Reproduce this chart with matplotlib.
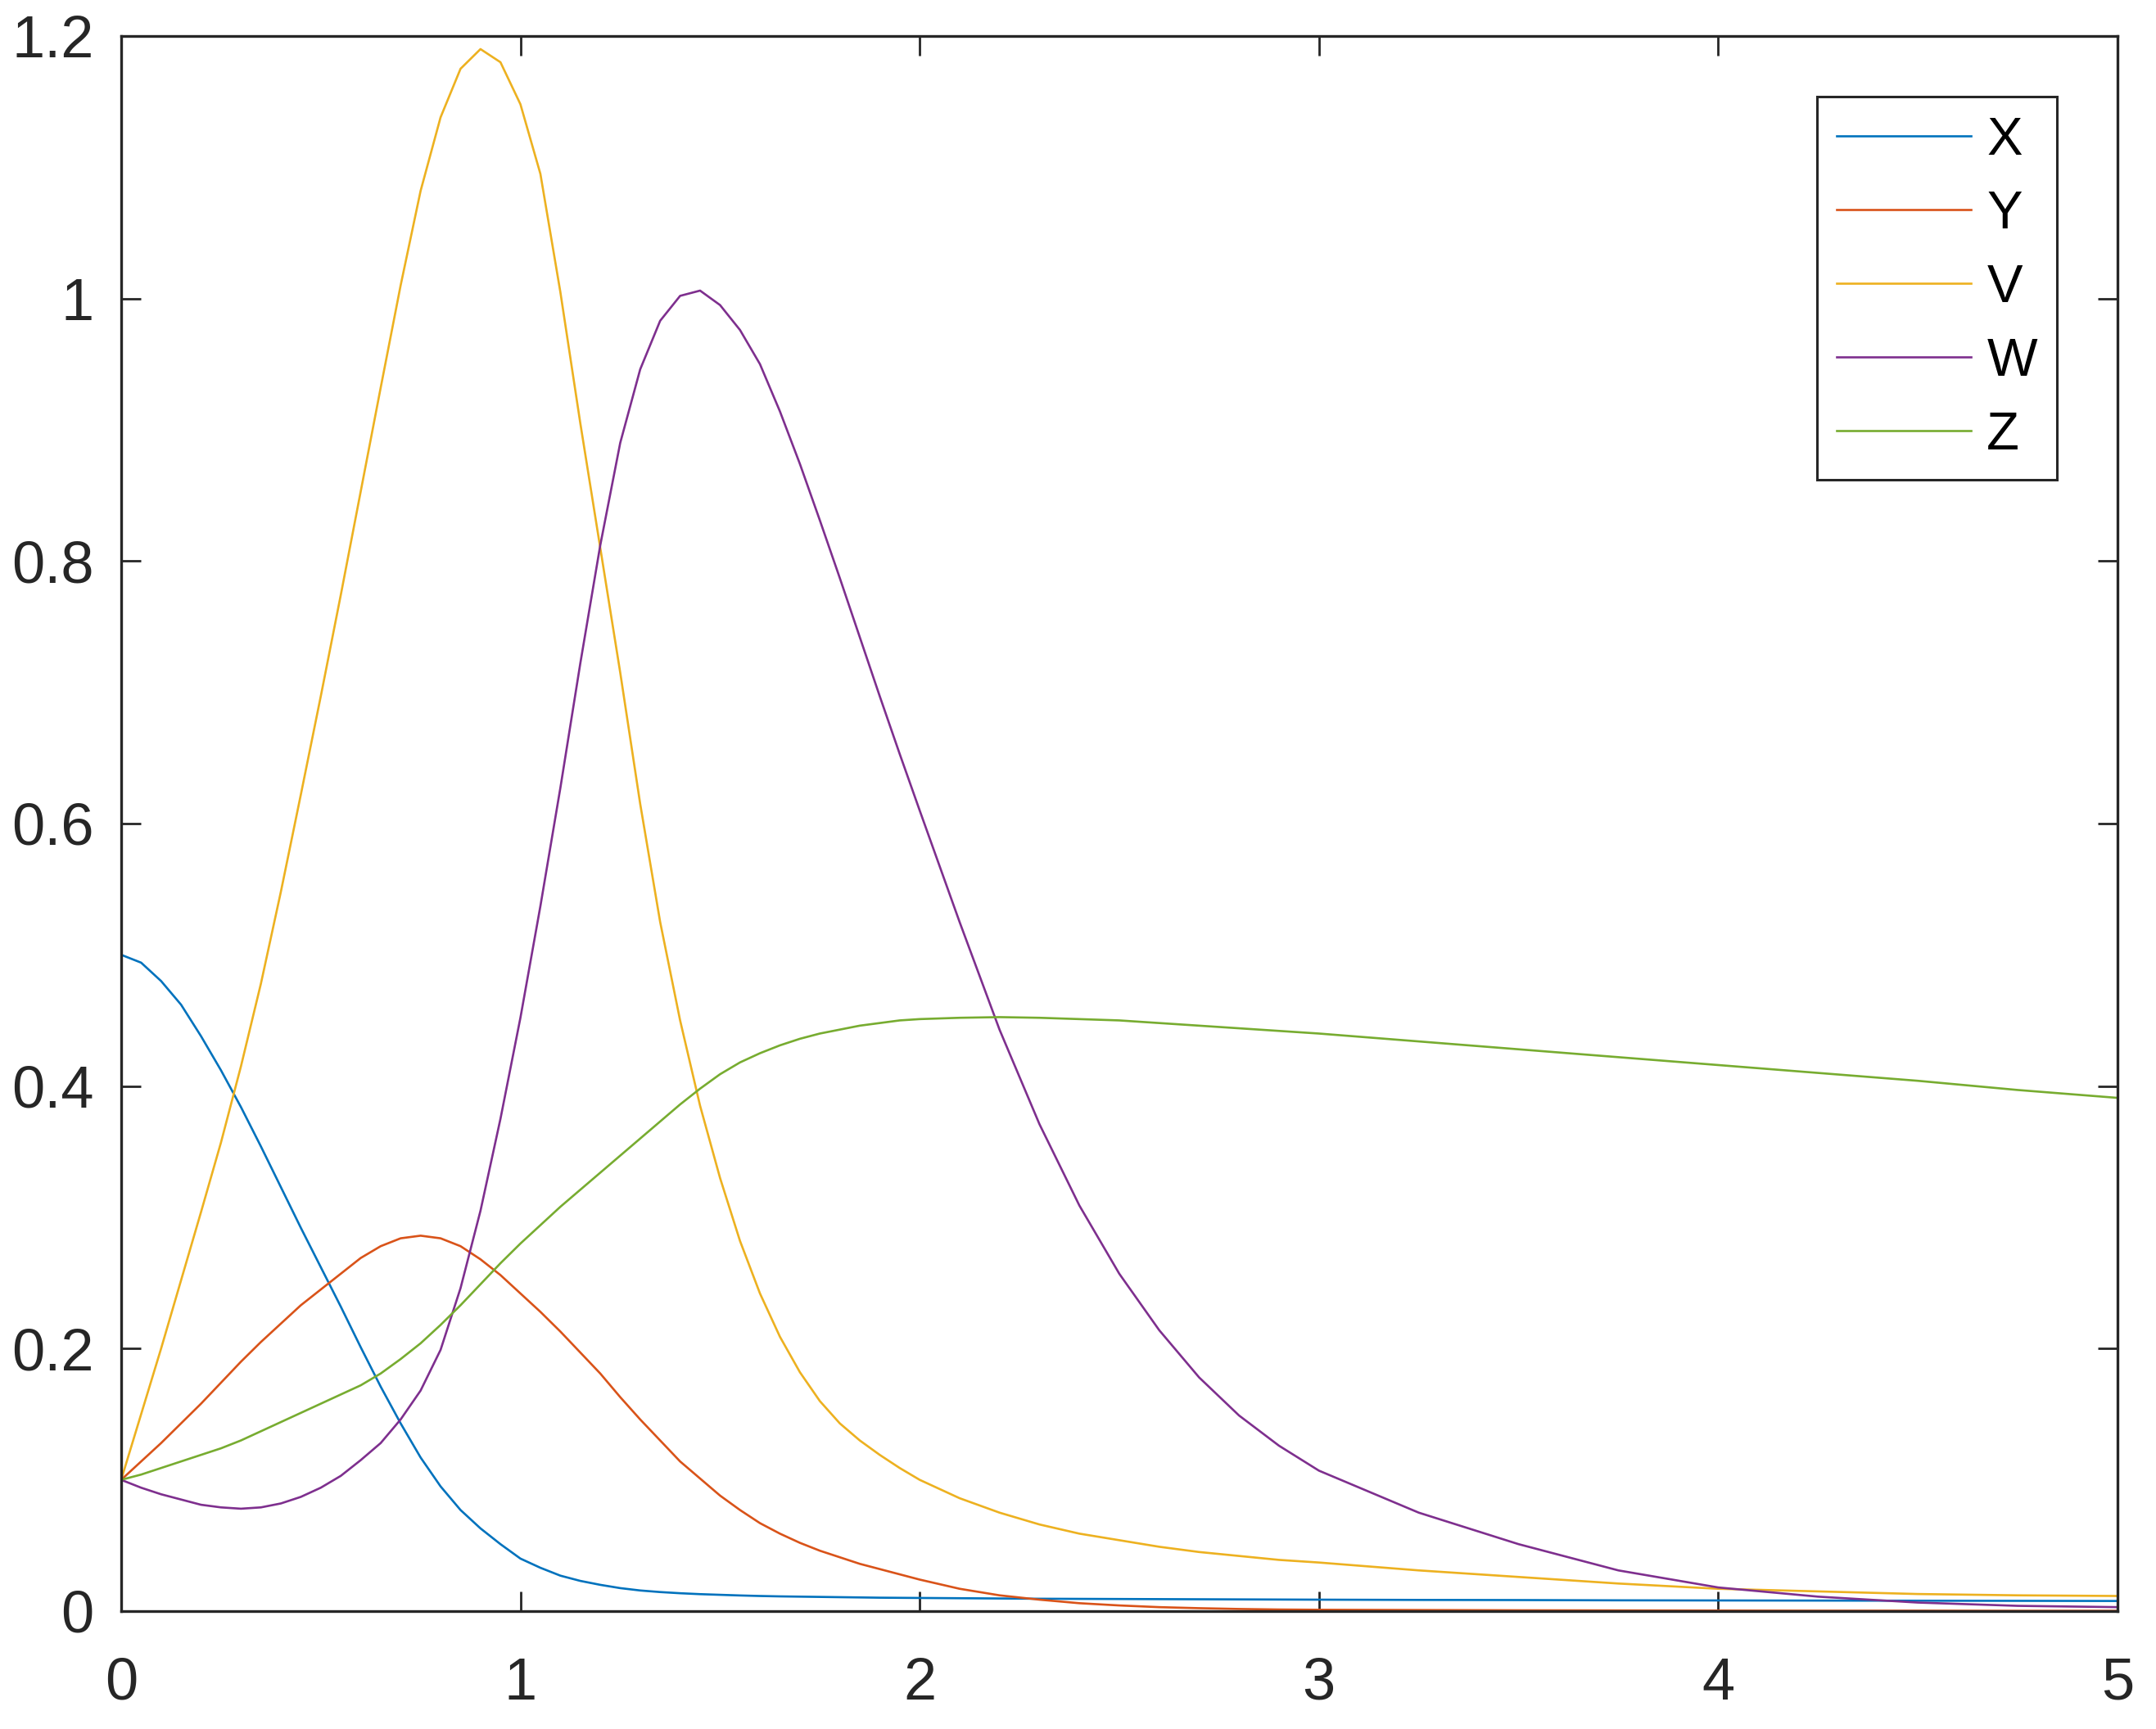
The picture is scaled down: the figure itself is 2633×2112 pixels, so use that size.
import matplotlib
matplotlib.use('Agg')
import matplotlib.pyplot as plt

plt.rcParams['font.family'] = ['Liberation Sans', 'DejaVu Sans']

# time grid: fine steps where the curves bend, coarser in the tail
t = [0.00, 0.05, 0.10, 0.15, 0.20, 0.25, 0.30, 0.35, 0.40, 0.45,
     0.50, 0.55, 0.60, 0.65, 0.70, 0.75, 0.80, 0.85, 0.90, 0.95,
     1.00, 1.05, 1.10, 1.15, 1.20, 1.25, 1.30, 1.35, 1.40, 1.45,
     1.50, 1.55, 1.60, 1.65, 1.70, 1.75, 1.80, 1.85, 1.90, 1.95,
     2.00, 2.1, 2.2, 2.3, 2.4, 2.5, 2.6, 2.7, 2.8, 2.9,
     3.0, 3.25, 3.5, 3.75, 4.0, 4.25, 4.5, 4.75, 5.0]

X = [0.500, 0.494, 0.480, 0.462, 0.438, 0.412, 0.384, 0.354, 0.323, 0.292,
     0.262, 0.232, 0.201, 0.171, 0.143, 0.117, 0.095, 0.077, 0.063, 0.051,
     0.040, 0.033, 0.027, 0.023, 0.020, 0.0175, 0.0157, 0.0145, 0.0136, 0.0129,
     0.0124, 0.0119, 0.0115, 0.0112, 0.0110, 0.0108, 0.0106, 0.0104, 0.0102, 0.0101,
     0.0100, 0.0098, 0.0096, 0.0094, 0.0093, 0.0092, 0.0091, 0.0090, 0.0089, 0.0088,
     0.0087, 0.0085, 0.0084, 0.0082, 0.0081, 0.0080, 0.0079, 0.0078, 0.0077]

Y = [0.100, 0.114, 0.128, 0.143, 0.158, 0.174, 0.190, 0.205, 0.219, 0.233,
     0.245, 0.257, 0.269, 0.278, 0.284, 0.286, 0.284, 0.278, 0.268, 0.256,
     0.242, 0.228, 0.213, 0.197, 0.181, 0.163, 0.146, 0.130, 0.114, 0.101,
     0.088, 0.077, 0.067, 0.059, 0.052, 0.046, 0.041, 0.036, 0.032, 0.028,
     0.024, 0.017, 0.012, 0.0087, 0.006, 0.0043, 0.003, 0.0022, 0.0016, 0.0012,
     0.001, 0.0008, 0.0006, 0.0005, 0.0004, 0.0003, 0.0003, 0.0002, 0.0002]

V = [0.100, 0.150, 0.200, 0.252, 0.304, 0.357, 0.415, 0.478, 0.548, 0.622,
     0.697, 0.774, 0.853, 0.932, 1.010, 1.082, 1.138, 1.175, 1.190, 1.180,
     1.148, 1.095, 1.005, 0.905, 0.810, 0.715, 0.615, 0.525, 0.450, 0.385,
     0.330, 0.282, 0.242, 0.209, 0.182, 0.160, 0.143, 0.130, 0.119, 0.109,
     0.100, 0.086, 0.075, 0.066, 0.059, 0.054, 0.049, 0.045, 0.042, 0.039,
     0.037, 0.031, 0.026, 0.021, 0.017, 0.015, 0.013, 0.012, 0.0115]

W = [0.100, 0.094, 0.089, 0.085, 0.081, 0.079, 0.078, 0.079, 0.082, 0.087,
     0.094, 0.103, 0.115, 0.128, 0.146, 0.168, 0.199, 0.246, 0.305, 0.375,
     0.452, 0.537, 0.627, 0.722, 0.812, 0.890, 0.946, 0.983, 1.002, 1.006,
     0.995, 0.976, 0.950, 0.914, 0.874, 0.831, 0.787, 0.742, 0.697, 0.653,
     0.610, 0.525, 0.443, 0.371, 0.309, 0.257, 0.214, 0.178, 0.149, 0.126,
     0.107, 0.075, 0.051, 0.031, 0.018, 0.011, 0.0065, 0.004, 0.003]

Z = [0.100, 0.104, 0.109, 0.114, 0.119, 0.124, 0.130, 0.137, 0.144, 0.151,
     0.158, 0.165, 0.172, 0.181, 0.192, 0.204, 0.218, 0.233, 0.249, 0.265,
     0.280, 0.294, 0.308, 0.321, 0.334, 0.347, 0.360, 0.373, 0.386, 0.398,
     0.409, 0.418, 0.425, 0.431, 0.436, 0.440, 0.443, 0.446, 0.448, 0.450,
     0.451, 0.452, 0.4525, 0.452, 0.451, 0.450, 0.448, 0.446, 0.444, 0.442,
     0.440, 0.434, 0.428, 0.422, 0.416, 0.410, 0.404, 0.397, 0.391]

names = ['X', 'Y', 'V', 'W', 'Z']
colors = ['#0072BD', '#D95319', '#EDB120', '#7E2F8E', '#77AC30']

fig = plt.figure(figsize=(26.33, 21.12), dpi=100)
ax = fig.add_axes([0.0562, 0.0682, 0.9259, 0.9110])

for name, series, c in zip(names, [X, Y, V, W, Z], colors):
    ax.plot(t, series, color=c, lw=1.9, label=name)

ax.set_xlim(0, 5)
ax.set_ylim(0, 1.2)
ax.set_xticks([0, 1, 2, 3, 4, 5])
ax.set_yticks([0, 0.2, 0.4, 0.6, 0.8, 1.0, 1.2])
ax.set_xticklabels(['0', '1', '2', '3', '4', '5'])
ax.set_yticklabels(['0', '0.2', '0.4', '0.6', '0.8', '1', '1.2'])

axc = '#262626'
for s in ax.spines.values():
    s.set_linewidth(2.4)
    s.set_color(axc)
ax.tick_params(direction='in', length=17, width=2.0, color=axc,
               top=True, right=True, labelsize=52, labelcolor=axc)
ax.tick_params(axis='y', pad=24)
ax.tick_params(axis='x', pad=40)

leg = ax.legend(loc='upper right', bbox_to_anchor=(2512 / 2633, 1 - 118 / 2112),
                bbox_transform=fig.transFigure, borderaxespad=0,
                fontsize=47, handlelength=2.5, handletextpad=0.3,
                labelspacing=0.46, borderpad=0.37, fancybox=False, framealpha=1)
leg.get_frame().set_edgecolor(axc)
leg.get_frame().set_linewidth(2.2)

fig.savefig('out.png', dpi=100, facecolor='white')
